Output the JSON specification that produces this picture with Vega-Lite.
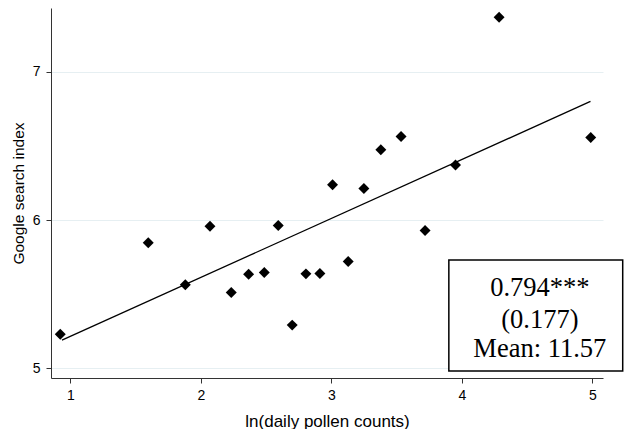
{
  "$schema": "https://vega.github.io/schema/vega-lite/v6.json",
  "width": 552,
  "height": 370,
  "autosize": "none",
  "padding": {"left": 51, "top": 8, "right": 21, "bottom": 51},
  "background": "white",
  "config": {
    "view": {"stroke": null},
    "axis": {
      "labelFont": "Liberation Sans",
      "titleFont": "Liberation Sans",
      "labelFontSize": 14,
      "titleFontSize": 16,
      "titleFontWeight": "normal",
      "labelColor": "#000",
      "titleColor": "#000",
      "domainColor": "#333",
      "tickColor": "#333",
      "tickSize": 5,
      "format": "d"
    }
  },
  "datasets": {
    "pts": [
      {"x": 0.923, "y": 5.230},
      {"x": 1.597, "y": 5.847},
      {"x": 1.881, "y": 5.563},
      {"x": 2.070, "y": 5.959},
      {"x": 2.233, "y": 5.511},
      {"x": 2.366, "y": 5.635},
      {"x": 2.486, "y": 5.646},
      {"x": 2.593, "y": 5.964},
      {"x": 2.700, "y": 5.291},
      {"x": 2.805, "y": 5.637},
      {"x": 2.912, "y": 5.640},
      {"x": 3.009, "y": 6.239},
      {"x": 3.129, "y": 5.720},
      {"x": 3.249, "y": 6.214},
      {"x": 3.379, "y": 6.475},
      {"x": 3.534, "y": 6.565},
      {"x": 3.718, "y": 5.930},
      {"x": 3.951, "y": 6.372},
      {"x": 4.285, "y": 7.369},
      {"x": 4.987, "y": 6.558}
    ],
    "fit": [
      {"x": 0.936, "y": 5.19},
      {"x": 4.985, "y": 6.801}
    ],
    "box": [
      {"x": 3.900, "x2": 5.232, "y": 4.982, "y2": 5.730}
    ],
    "labels": [
      {"x": 4.597, "y": 5.489, "label": "0.794***"},
      {"x": 4.597, "y": 5.270, "label": "(0.177)"},
      {"x": 4.597, "y": 5.078, "label": "Mean: 11.57"}
    ]
  },
  "layer": [
    {
      "data": {"name": "pts"},
      "mark": {"type": "point", "shape": "diamond", "filled": true, "color": "#000", "size": 120, "opacity": 1},
      "encoding": {
        "x": {
          "field": "x", "type": "quantitative",
          "scale": {"domain": [0.852, 5.081], "nice": false, "zero": false},
          "axis": {"values": [1, 2, 3, 4, 5], "grid": false, "title": "ln(daily pollen counts)", "titleFontSize": 17, "labelPadding": 5, "titlePadding": 11}
        },
        "y": {
          "field": "y", "type": "quantitative",
          "scale": {"domain": [4.934, 7.432], "nice": false, "zero": false},
          "axis": {"values": [5, 6, 7], "grid": true, "gridColor": "#e6eff2", "gridWidth": 1, "title": "Google search index", "titleFontSize": 15.5, "labelPadding": 6, "titlePadding": 6}
        }
      }
    },
    {
      "data": {"name": "fit"},
      "mark": {"type": "line", "color": "#000", "strokeWidth": 1.3},
      "encoding": {
        "x": {"field": "x", "type": "quantitative"},
        "y": {"field": "y", "type": "quantitative"}
      }
    },
    {
      "data": {"name": "box"},
      "mark": {"type": "rect", "fill": "white", "stroke": "#000", "strokeWidth": 1.5},
      "encoding": {
        "x": {"field": "x", "type": "quantitative"},
        "x2": {"field": "x2"},
        "y": {"field": "y", "type": "quantitative"},
        "y2": {"field": "y2"}
      }
    },
    {
      "data": {"name": "labels"},
      "mark": {"type": "text", "font": "Liberation Serif", "fontSize": 26.5, "align": "center", "baseline": "alphabetic", "color": "#000"},
      "encoding": {
        "x": {"field": "x", "type": "quantitative"},
        "y": {"field": "y", "type": "quantitative"},
        "text": {"field": "label"}
      }
    }
  ]
}
